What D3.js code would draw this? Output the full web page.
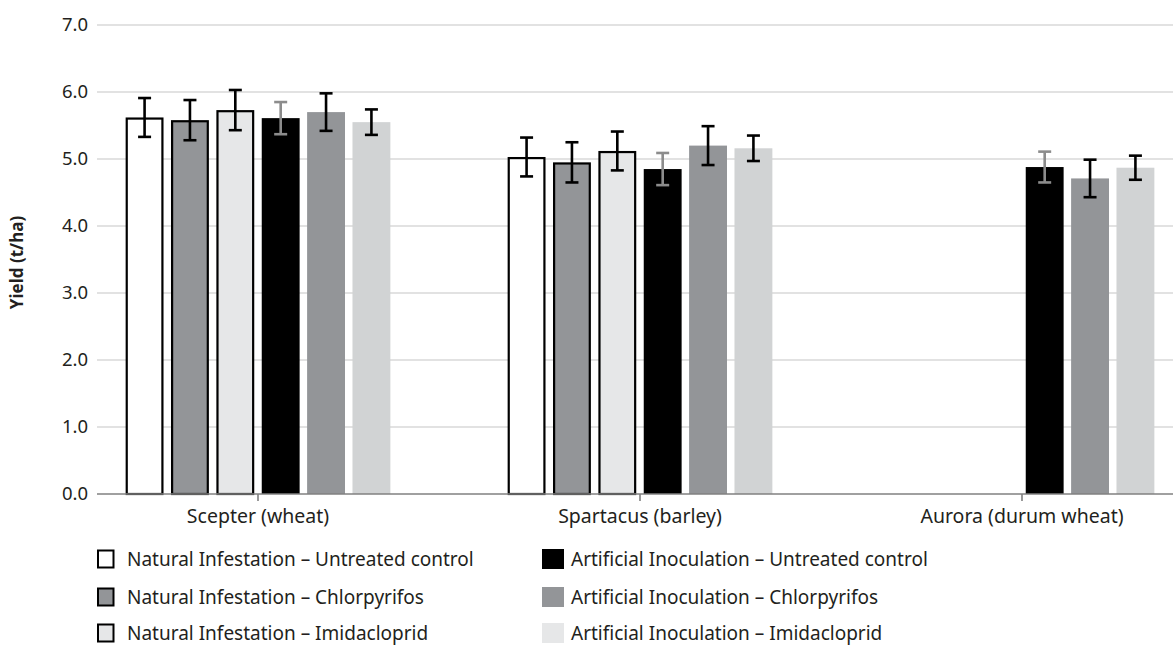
<!DOCTYPE html>
<html>
<head>
<meta charset="utf-8">
<script src="https://cdn.jsdelivr.net/npm/d3@7"></script>
<style>
  html, body { margin: 0; padding: 0; background: #fff; }
  svg { display: block; font-family: "Noto Sans", "Open Sans", sans-serif; }
</style>
</head>
<body>
<svg id="chart" width="1173" height="646"></svg>
<script>
// Cultivars on the x axis
const categories = ["Scepter (wheat)", "Spartacus (barley)", "Aurora (durum wheat)"];

// Treatment series (order of bars within each cultivar)
const seriesNames = [
  "Natural Infestation – Untreated control",
  "Natural Infestation – Chlorpyrifos",
  "Natural Infestation – Imidacloprid",
  "Artificial Inoculation – Untreated control",
  "Artificial Inoculation – Chlorpyrifos",
  "Artificial Inoculation – Imidacloprid"
];

// Mean yield (t/ha) per series, one value per cultivar (null = not tested)
const natUntreated   = [5.62, 5.03, null];
const natChlorpyr    = [5.58, 4.95, null];
const natImidaclo    = [5.73, 5.12, null];
const artUntreated   = [5.61, 4.85, 4.88];
const artChlorpyr    = [5.70, 5.20, 4.71];
const artImidaclo    = [5.55, 5.16, 4.87];

// Error (± t/ha) per series
const natUntreatedErr = [0.29, 0.29, null];
const natChlorpyrErr  = [0.30, 0.30, null];
const natImidacloErr  = [0.30, 0.29, null];
const artUntreatedErr = [0.24, 0.24, 0.23];
const artChlorpyrErr  = [0.28, 0.29, 0.28];
const artImidacloErr  = [0.19, 0.19, 0.18];

const yTicks = [0, 1, 2, 3, 4, 5, 6, 7];

const values = [natUntreated, natChlorpyr, natImidaclo, artUntreated, artChlorpyr, artImidaclo];
const errors = [natUntreatedErr, natChlorpyrErr, natImidacloErr, artUntreatedErr, artChlorpyrErr, artImidacloErr];

const styles = [
  { fill: "#ffffff", stroke: "#000", err: "#000" },
  { fill: "#939598", stroke: "#000", err: "#000" },
  { fill: "#e6e7e8", stroke: "#000", err: "#000" },
  { fill: "#000000", stroke: null,   err: "#8c8c8c" },
  { fill: "#939598", stroke: null,   err: "#000" },
  { fill: "#d1d3d4", stroke: null,   err: "#000" }
];

const svg = d3.select("#chart");

const plotLeft = 97, plotRight = 1173;
const y = d3.scaleLinear().domain([0, 7]).range([494, 25]);

// cultivar bands: centred at 258, 640, 1022
const x0 = d3.scaleBand().domain(categories).range([67, 1213]);
const x1 = d3.scaleBand().domain(d3.range(seriesNames.length))
  .range([0, x0.bandwidth() * 0.712]).paddingInner(0.165).paddingOuter(0.08);
const groupOffset = -x1.range()[1] / 2;

// gridlines
svg.append("g").selectAll("line").data(yTicks.filter(d => d > 0)).join("line")
  .attr("x1", plotLeft).attr("x2", plotRight)
  .attr("y1", d => y(d)).attr("y2", d => y(d))
  .attr("stroke", "#d9d9d9").attr("stroke-width", 1.3);

// y axis labels
const yAxis = d3.axisLeft(y).tickValues(yTicks).tickFormat(d3.format(".1f")).tickSize(0).tickPadding(9);
const gy = svg.append("g").attr("transform", `translate(${plotLeft},0)`).call(yAxis);
gy.select(".domain").remove();
gy.selectAll("text").attr("font-size", 18.5).attr("fill", "#231f20")
  .style("font-family", "\"Noto Sans\", sans-serif");

// y axis title
svg.append("text")
  .attr("transform", `translate(23,${y(3.5) + 3}) rotate(-90)`)
  .attr("text-anchor", "middle")
  .attr("font-size", 17).attr("font-weight", "bold").attr("fill", "#231f20")
  .text("Yield (t/ha)");

// bars
const groups = svg.append("g").selectAll("g").data(categories).join("g")
  .attr("transform", d => `translate(${x0(d) + x0.bandwidth() / 2 + groupOffset},0)`);

groups.each(function (cat, ci) {
  const g = d3.select(this);
  values.forEach((arr, si) => {
    const v = arr[ci];
    if (v == null) return;
    const st = styles[si];
    const sw = st.stroke ? 2.2 : 0;
    g.append("rect")
      .attr("x", x1(si) + sw / 2)
      .attr("y", y(v) + sw / 2)
      .attr("width", x1.bandwidth() - sw)
      .attr("height", y(0) - y(v) - sw / 2)
      .attr("fill", st.fill)
      .attr("stroke", st.stroke || "none")
      .attr("stroke-width", sw);
  });
});

// x axis line and ticks
svg.append("line")
  .attr("x1", plotLeft).attr("x2", plotRight)
  .attr("y1", y(0)).attr("y2", y(0))
  .attr("stroke", "#808080").attr("stroke-width", 1.6);

const xAxis = d3.axisBottom(x0).tickSize(7).tickPadding(8);
const gx = svg.append("g").attr("transform", `translate(0,${y(0)})`).call(xAxis);
gx.select(".domain").remove();
gx.selectAll(".tick line").attr("stroke", "#808080").attr("stroke-width", 1.6);
gx.selectAll("text").attr("font-size", 19.5).attr("fill", "#231f20")
  .style("font-family", "\"Noto Sans\", sans-serif");

// error bars
groups.each(function (cat, ci) {
  const g = d3.select(this);
  values.forEach((arr, si) => {
    const v = arr[ci];
    const e = errors[si][ci];
    if (v == null || e == null) return;
    const cx = x1(si) + x1.bandwidth() / 2;
    const col = styles[si].err;
    const eg = g.append("g").attr("stroke", col).attr("stroke-width", 2.6);
    eg.append("line").attr("x1", cx).attr("x2", cx).attr("y1", y(v + e)).attr("y2", y(v - e));
    eg.append("line").attr("x1", cx - 6.5).attr("x2", cx + 6.5).attr("y1", y(v + e)).attr("y2", y(v + e));
    eg.append("line").attr("x1", cx - 6.5).attr("x2", cx + 6.5).attr("y1", y(v - e)).attr("y2", y(v - e));
  });
});

// legend: two columns of three rows
const legend = svg.append("g");
const legItems = seriesNames.map((name, i) => ({ name, i, col: Math.floor(i / 3), row: i % 3 }));
const colX = [97, 542], rowY = [559, 597, 633];
const li = legend.selectAll("g").data(legItems).join("g")
  .attr("transform", d => `translate(${colX[d.col]},${rowY[d.row]})`);
li.each(function (d) {
  const g = d3.select(this);
  const st = styles[d.i];
  if (st.stroke) {
    g.append("rect").attr("x", 1).attr("y", -8.5).attr("width", 15.5).attr("height", 17)
      .attr("fill", st.fill).attr("stroke", st.stroke).attr("stroke-width", 2);
  } else {
    g.append("rect").attr("x", 0).attr("y", -10).attr("width", 22).attr("height", 20)
      .attr("fill", d.i === 5 ? "#e6e7e8" : st.fill);
  }
  g.append("text").attr("x", d.col === 0 ? 30 : 29).attr("y", 0).attr("dy", "0.35em")
    .attr("font-size", 19).attr("fill", "#231f20").text(d.name);
});
</script>
</body>
</html>
